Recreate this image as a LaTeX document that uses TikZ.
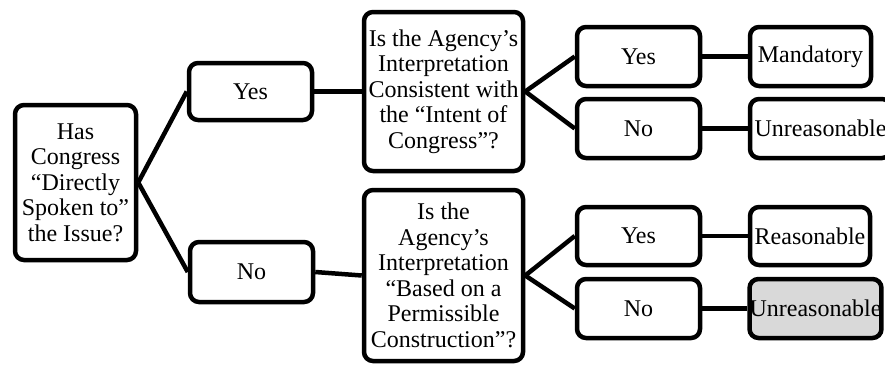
\documentclass[tikz,border=0pt]{standalone}
\usepackage{fontspec}
\setmainfont{Liberation Serif}
\usepackage{tikz}
\usepackage{xcolor}
\definecolor{shade-grey}{HTML}{D9D9D9}
\tikzset{
    chart-box/.style = {draw=black, fill=white, line width=4.5pt, rectangle, rounded corners=9pt, align=center, inner sep=1pt, font=\fontsize{24}{25.5}\selectfont},
    chart-line/.style = {draw=black, line width=4.5pt},
}

\begin{document}
\begin{tikzpicture}[x=1pt, y=-1pt]
\useasboundingbox (0,0) rectangle (885,367);
% first question
\node[chart-box, minimum width=121pt, minimum height=155pt] (spoken) at (75.5,182.5) {Has\\Congress\\“Directly\\Spoken to”\\the Issue?};
\node[chart-box, minimum width=123pt, minimum height=57pt] (spoken-yes) at (250.5,91.5) {Yes};
\node[chart-box, minimum width=123pt, minimum height=60pt] (spoken-no) at (251.5,272) {No};
% second questions
\node[chart-box, minimum width=159pt, minimum height=159pt] (intent) at (443.5,91.5) {Is the Agency’s\\Interpretation\\Consistent with\\the “Intent of\\Congress”?};
\node[chart-box, minimum width=159pt, minimum height=171pt] (permissible) at (443.5,275.5) {Is the\\Agency’s\\Interpretation\\“Based on a\\Permissible\\Construction”?};
% answers
\node[chart-box, minimum width=123pt, minimum height=59pt] (intent-yes) at (638.5,56.5) {Yes};
\node[chart-box, minimum width=123pt, minimum height=59pt] (intent-no) at (638.5,128.5) {No};
\node[chart-box, minimum width=123pt, minimum height=58pt] (permissible-yes) at (638.5,236) {Yes};
\node[chart-box, minimum width=123pt, minimum height=59pt] (permissible-no) at (638.5,308.5) {No};
% outcomes
\node[chart-box, minimum width=121pt, minimum height=59pt] (mandatory) at (810.5,56.5) {Mandatory};
\node[chart-box, minimum width=141pt, minimum height=59pt] (unreasonable-a) at (820.5,128.5) {Unreasonable};
\node[chart-box, minimum width=120pt, minimum height=58pt] (reasonable) at (810,236) {Reasonable};
\node[chart-box, fill=shade-grey, minimum width=131pt, minimum height=59pt, inner sep=0pt] (unreasonable-b) at (815.5,308.5) {Unreasonable};
% connectors
\draw[chart-line] (spoken.east) -- (spoken-yes.west);
\draw[chart-line] (spoken.east) -- (spoken-no.west);
\draw[chart-line] (spoken-yes.east) -- (intent.west);
\draw[chart-line] (spoken-no.east) -- (permissible.west);
\draw[chart-line] (intent.east) -- (intent-yes.west);
\draw[chart-line] (intent.east) -- (intent-no.west);
\draw[chart-line] (permissible.east) -- (permissible-yes.west);
\draw[chart-line] (permissible.east) -- (permissible-no.west);
\draw[chart-line] (intent-yes.east) -- (mandatory.west);
\draw[chart-line] (intent-no.east) -- (unreasonable-a.west);
\draw[chart-line] (permissible-yes.east) -- (reasonable.west);
\draw[chart-line] (permissible-no.east) -- (unreasonable-b.west);
\end{tikzpicture}
\end{document}
